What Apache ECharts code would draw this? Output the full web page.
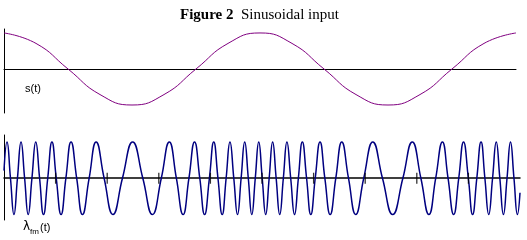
<!DOCTYPE html>
<html><head><meta charset="utf-8">
<script src="https://cdn.jsdelivr.net/npm/echarts@6/dist/echarts.min.js"></script>
<style>html,body{margin:0;padding:0;background:#fff}#c{width:527px;height:240px}</style>
</head><body><div id="c"></div>
<script>
const titleBold = 'Figure 2';
const titleRest = 'Sinusoidal input';
const sLabel = 's(t)';
const lamMain = 'λ';
const lamSub = 'fm';
const lamArg = '(t)';

// top panel: s(t)
const sT = [0, 0.625, 1.25, 1.875, 2.5, 3.125, 3.75, 4.375, 5, 5.625, 6.25, 6.875, 7.5, 8.125, 8.75, 9.375, 10];
const sV = [1, 0.71, 0, -0.71, -1, -0.71, 0, 0.71, 1, 0.71, 0, -0.71, -1, -0.71, 0, 0.71, 1];

// bottom panel: lambda_fm(t), peaks / zero crossings / troughs
const lamT = [0,
  0.0582, 0.1255, 0.1928, 0.2605, 0.3300, 0.3996, 0.4691, 0.5413,
  0.6156, 0.6899, 0.7656, 0.8475, 0.9294, 1.0128, 1.1060, 1.1991,
  1.2994, 1.4083, 1.5204, 1.6502, 1.7857, 1.9406, 2.1112, 2.2955,
  2.4929, 2.6903, 2.8758, 3.0483, 3.2032, 3.3405, 3.4702, 3.5839,
  3.6927, 3.7942, 3.8873, 3.9805, 4.0647, 4.1466, 4.2285, 4.3048,
  4.3791, 4.4533, 4.5258, 4.5954, 4.6650, 4.7345, 4.8023, 4.8697,
  4.9370, 5.0043, 5.0716, 5.1389, 5.2063, 5.2744, 5.3439, 5.4135,
  5.4831, 5.5562, 5.6305, 5.7047, 5.7820, 5.8639, 5.9458, 6.0315,
  6.1246, 6.2178, 6.3212, 6.4301, 6.5464, 6.6761, 6.8167, 6.9716,
  7.1473, 7.3350, 7.5324, 7.7298, 7.9119, 8.0792, 8.2341, 8.3664,
  8.4962, 8.6056, 8.7145, 8.8128, 8.9059, 8.9991, 9.0811, 9.1630,
  9.2449, 9.3196, 9.3939, 9.4682, 9.5398, 9.6093, 9.6789, 9.7484,
  9.8158, 9.8831, 9.9505,
  10];
const lamV = [0.21,
  1, 0, -1, 0, 1, 0, -1, 0,
  1, 0, -1, 0, 1, 0, -1, 0,
  1, 0, -1, 0, 1, 0, -1, 0,
  1, 0, -1, 0, 1, 0, -1, 0,
  1, 0, -1, 0, 1, 0, -1, 0,
  1, 0, -1, 0, 1, 0, -1, 0,
  1, 0, -1, 0, 1, 0, -1, 0,
  1, 0, -1, 0, 1, 0, -1, 0,
  1, 0, -1, 0, 1, 0, -1, 0,
  1, 0, -1, 0, 1, 0, -1, 0,
  1, 0, -1, 0, 1, 0, -1, 0,
  1, 0, -1, 0, 1, 0, -1, 0,
  1, 0, -1,
  -0.40];

// tick marks on the lower time axis
const tickT = [1, 2, 3, 4, 5, 6, 7, 8, 9];

const chart = echarts.init(document.getElementById('c'), null, {renderer: 'canvas'});
const black = '#000';
const hiddenBits = {axisLabel: {show: false}, splitLine: {show: false}, axisTick: {show: false}};
chart.setOption({
  animation: false,
  backgroundColor: '#fff',
  title: {
    text: '{b|' + titleBold + '}  ' + titleRest,
    left: 175, top: 3,
    textStyle: {fontFamily: 'Liberation Serif', fontSize: 15, fontWeight: 'normal', color: black,
      rich: {b: {fontFamily: 'Liberation Serif', fontSize: 15, fontWeight: 'bold', color: black}}}
  },
  grid: [
    {left: 4, top: 29, width: 512, height: 84},
    {left: 4, top: 135, width: 516, height: 85}
  ],
  xAxis: [
    Object.assign({gridIndex: 0, type: 'value', min: 0, max: 10,
      axisLine: {onZero: true, lineStyle: {color: black, width: 1}}}, hiddenBits),
    Object.assign({gridIndex: 1, type: 'value', min: 0, max: 10,
      axisLine: {onZero: true, lineStyle: {color: black, width: 1.5}}}, hiddenBits)
  ],
  yAxis: [
    Object.assign({gridIndex: 0, type: 'value', min: -1.222, max: 1.11,
      axisLine: {show: true, onZero: false, lineStyle: {color: black, width: 1}}}, hiddenBits),
    Object.assign({gridIndex: 1, type: 'value', min: -1.15, max: 1.19,
      axisLine: {show: true, onZero: false, lineStyle: {color: black, width: 1}}}, hiddenBits)
  ],
  series: [
    {type: 'line', xAxisIndex: 0, yAxisIndex: 0, data: sT.map((t, i) => [t, sV[i]]),
      smooth: true, symbol: 'none', lineStyle: {color: '#800080', width: 1}},
    {type: 'line', xAxisIndex: 1, yAxisIndex: 1, data: lamT.map((t, i) => [t, lamV[i]]),
      smooth: true, symbol: 'none', lineStyle: {color: '#000080', width: 1.5}, z: 2},
    {type: 'scatter', xAxisIndex: 1, yAxisIndex: 1, data: tickT.map(t => [t, 0]),
      symbol: 'rect', symbolSize: [1.3, 11], itemStyle: {color: black}, silent: true, z: 3}
  ],
  graphic: [
    {type: 'text', left: 25, top: 83, style: {text: sLabel, font: '11px "Liberation Sans"', fill: black}},
    {type: 'text', left: 23, top: 221, style: {text: lamMain, font: '12px "DejaVu Sans"', fill: black}},
    {type: 'text', left: 30, top: 228, style: {text: lamSub, font: '8px "Liberation Sans"', fill: black}},
    {type: 'text', left: 40, top: 222, style: {text: lamArg, font: '11px "Liberation Sans"', fill: black}}
  ]
});
</script>
</body></html>
